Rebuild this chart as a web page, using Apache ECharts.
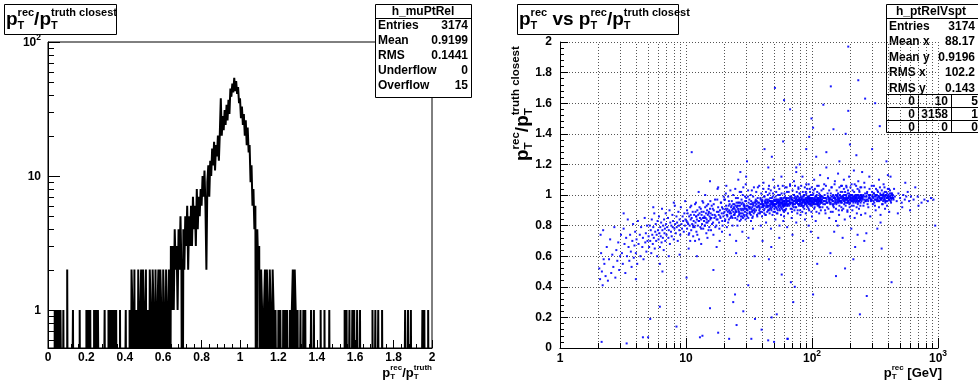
<!DOCTYPE html>
<html><head><meta charset="utf-8">
<script src="https://cdn.jsdelivr.net/npm/echarts@6/dist/echarts.min.js"></script>
<style>html,body{margin:0;padding:0;background:#fff}#c{width:978px;height:385px}</style>
</head><body><div id="c"></div>
<script>
// ---------------- DATA ----------------
const histBinWidth = 0.005; // 400 bins from 0 to 2
const histCounts = [
 0,0,0,0,0,0,0,1,0,1, 0,1,0,1,1,0,1,0,0,0,
 2,0,0,0,0,0,1,0,0,0, 0,0,0,1,0,0,0,0,0,0,
 1,0,1,0,1,0,0,0,1,0, 1,0,1,1,0,0,0,0,0,1,
 0,0,0,1,0,1,0,1,0,1, 0,1,0,0,0,1,0,0,0,0,
 0,1,0,0,0,1,0,2,1,0, 2,0,1,0,2,0,1,2,0,2,
 0,1,2,0,1,0,2,1,0,2, 1,0,2,0,1,2,0,2,1,0,
 2,1,0,2,0,1,2,0,3,1, 3,1,4,2,3,1,4,2,5,2,
 0,4,2,5,3,6,2,5,3,6, 3,7,4,6,3,8,4,7,5,8,
 6,10,7,11,6,2,9,12,7,13, 10,16,12,18,11,17,14,20,13,21,
 38,20,28,22,31,24,34,26,37,29, 45,39,49,42,54,43,51,41,46,35,
 38,27,33,24,29,20,26,17,23,15, 17,9,12,6,8,4,6,0,4,2,
 3,0,2,1,0,1,2,0,2,1, 0,2,1,0,2,1,0,1,1,0,
 1,0,1,1,0,1,0,1,0,1, 1,0,1,0,1,2,0,2,1,0,
 1,0,0,1,0,0,1,0,1,0, 0,0,0,0,1,0,0,1,0,0,
 0,0,0,0,1,0,0,0,1,0, 0,0,0,1,0,0,0,0,0,0,
 0,0,0,0,0,0,0,0,0,1, 0,1,0,0,1,0,0,1,0,1,
 0,0,1,0,0,1,0,0,0,0, 0,0,0,0,0,0,0,0,1,0,
 0,1,0,0,1,0,0,0,1,0, 0,0,0,0,0,0,0,0,0,0,
 0,0,0,0,0,0,0,0,0,0, 0,0,1,0,0,1,0,0,1,0,
 0,0,0,0,0,0,0,0,0,0, 1,0,1,0,0,0,1,0,0,0
];
const histYMajor = [1, 10, 100];
const histYMinor = [0.6,0.7,0.8,0.9,2,3,4,5,6,7,8,9,20,30,40,50,60,70,80,90];
const histStats = [['Entries','3174'],['Mean','0.9199'],['RMS','0.1441'],['Underflow','0'],['Overflow','15']];

const scatXMajor = [1, 10, 100, 1000];
const scatXMinor = [2,3,4,5,6,7,8,9,20,30,40,50,60,70,80,90,200,300,400,500,600,700,800,900];
const scatStats = [['Entries','3174'],['Mean x','88.17'],['Mean y','0.9196'],['RMS x','102.2'],['RMS y','0.143']];
const scatTable = [['0','10','5'],['0','3158','1'],['0','0','0']];

// pT [GeV], ratio
const scatterPts = [
[2.05,0.52],[2.08,0.45],[2.1,0.74],[2.12,0.62],[2.15,0.50],[2.18,0.41],[2.2,0.77],[2.25,0.55],[2.3,0.47],[2.35,0.66],[2.4,0.44],[2.45,0.58],[2.5,0.71],[2.55,0.49],[2.6,0.61],[2.65,0.53],[2.7,0.79],[2.75,0.46],[2.8,0.64],[2.85,0.57],[2.9,0.69],[2.95,0.51],[3.0,0.60],[3.05,0.74],[2.22,0.58],[2.14,0.04],[3.38,0.03],
[3.1,0.62],[3.15,0.55],[3.2,0.78],[3.25,0.68],[3.3,0.49],[3.35,0.72],[3.4,0.60],[3.45,0.84],[3.5,0.66],[3.55,0.57],[3.6,0.74],[3.65,0.63],[3.7,0.53],[3.75,0.70],[3.8,0.81],[3.85,0.59],[3.9,0.67],[3.95,0.76],[4.0,0.62],[4.05,0.71],[4.1,0.55],[4.15,0.83],[4.2,0.68],[4.3,0.74],[4.35,0.60],[4.4,0.79],[4.5,0.66],[4.55,0.72],[4.6,0.58],[4.7,0.85],[4.75,0.69],[4.8,0.75],[4.85,0.63],[4.9,0.80],[4.95,0.70],[4.55,0.07],[5.0,0.07],[5.2,0.19],
[5.05,0.73],[5.1,0.66],[5.15,0.80],[5.2,0.70],[5.25,0.77],[5.3,0.62],[5.35,0.84],[5.4,0.74],[5.45,0.68],[5.5,0.79],[5.55,0.72],[5.6,0.88],[5.65,0.65],[5.7,0.76],[5.75,0.81],[5.8,0.70],[5.85,0.74],[5.9,0.60],[5.95,0.83],[6.0,0.77],
[6.05,0.71],[6.1,0.86],[6.15,0.75],[6.2,0.66],[6.25,0.79],[6.3,0.73],[6.35,0.82],[6.4,0.69],[6.45,0.91],[6.5,0.77],[6.55,0.72],[6.6,0.80],[6.65,0.64],[6.7,0.84],[6.75,0.75],[6.8,0.78],[6.85,0.70],[6.9,0.88],[6.95,0.81],[7.0,0.74],
[7.1,0.79],[7.2,0.85],[7.25,0.72],[7.3,0.77],[7.4,0.90],[7.45,0.68],[7.5,0.82],[7.6,0.76],[7.65,0.80],[7.7,0.73],[7.8,0.87],[7.85,0.79],[7.9,0.83],[8.0,0.71],[8.1,0.78],[8.15,0.93],[8.2,0.81],[8.3,0.75],[8.4,0.86],[8.45,0.79],
[8.5,0.82],[8.6,0.70],[8.7,0.89],[8.8,0.80],[8.85,0.77],[8.9,0.84],[9.0,0.74],[9.1,0.92],[9.2,0.81],[9.3,0.78],[9.4,0.86],[9.5,0.83],[9.6,0.76],[9.7,0.88],[9.8,0.80],[9.85,0.96],[9.9,0.84],[6.2,0.55],[7.3,0.60],[8.9,0.61],
[6.2,0.27],[8.4,0.14],[10.1,0.46],
[10.1,0.83],[10.2,0.78],[10.3,0.88],[10.4,0.81],[10.5,0.74],[10.6,0.86],[10.7,0.80],[10.8,0.92],[10.9,0.84],[11.0,0.77],
[11.1,0.85],[11.2,0.81],[11.3,0.89],[11.4,0.73],[11.5,0.83],[11.6,0.87],[11.7,0.79],[11.8,0.94],[11.9,0.82],[12.0,0.86],
[12.1,0.76],[12.2,0.84],[12.3,0.90],[12.4,0.80],[12.5,0.87],[12.6,0.83],[12.7,0.71],[12.8,0.88],[12.9,0.85],[13.0,0.79],
[13.1,0.91],[13.2,0.84],[13.3,0.87],[13.4,0.81],[13.5,0.96],[13.6,0.85],[13.7,0.78],[13.8,0.89],[13.9,0.83],[14.0,0.86],
[14.1,0.80],[14.2,0.92],[14.3,0.85],[14.4,0.88],[14.5,0.75],[14.6,0.84],[14.7,0.90],[14.8,0.82],[14.9,0.87],[15.0,0.94],
[15.1,0.83],[15.2,0.89],[15.3,0.79],[15.4,0.86],[15.5,0.91],[15.6,0.84],[15.7,0.88],[15.8,0.77],[15.9,0.85],[16.0,0.93],
[16.2,0.87],[16.4,0.82],[16.6,0.90],[16.8,0.85],[17.0,0.97],[17.2,0.86],[17.4,0.80],[17.6,0.89],[17.8,0.84],[18.0,0.92],
[18.2,0.87],[18.4,0.78],[18.6,0.90],[18.8,0.85],[19.0,0.95],[19.2,0.88],[19.4,0.83],[19.6,0.91],[19.8,0.86],[19.9,0.99],
[10.5,0.65],[11.8,0.70],[13.2,0.68],[14.8,0.72],[16.5,0.74],[18.5,0.70],[12.2,0.60],[17.5,0.66],[11.1,1.28],[15.5,1.09],
[16.5,0.51],[12.9,0.07],[13.5,0.08],[15.5,0.26],[18,0.10],[12.6,1.02],[14.2,1.0],[17.8,1.04],[19.3,0.76],[10.8,0.70],
[20.2,0.89],[20.5,0.84],[20.8,0.93],[21.0,0.87],[21.3,0.91],[21.6,0.82],[21.9,0.96],[22.2,0.88],[22.5,0.85],[22.8,0.92],
[23.1,0.90],[23.4,0.80],[23.7,0.94],[24.0,0.87],[24.3,0.91],[24.6,0.85],[24.9,0.98],[25.2,0.89],[25.5,0.93],[25.8,0.86],
[26.1,0.90],[26.4,0.95],[26.7,0.83],[27.0,0.91],[27.3,0.88],[27.6,0.94],[27.9,0.86],[28.2,1.00],[28.5,0.90],[28.8,0.87],
[29.1,0.93],[29.4,0.89],[29.7,0.84],[30.0,0.96],[30.3,0.91],[30.6,0.88],[30.9,0.93],[31.2,0.85],[31.5,0.92],[31.8,0.97],
[32.1,0.89],[32.4,0.94],[32.7,0.87],[33.0,0.91],[33.3,1.03],[33.6,0.90],[33.9,0.86],[34.2,0.93],[34.5,0.88],[34.8,0.95],
[20.4,0.97],[21.1,0.79],[22.0,0.90],[22.9,0.86],[23.8,0.89],[24.7,0.93],[25.6,0.80],[26.5,0.88],[27.4,1.02],[28.3,0.85],
[29.2,0.92],[30.1,0.87],[31.0,0.99],[31.9,0.91],[32.8,0.83],[33.7,0.95],[34.6,0.90],[21.5,0.89],[23.0,0.93],[24.4,0.88],
[25.9,0.91],[27.2,0.86],[28.7,0.93],[30.4,0.90],[32.0,0.88],[33.5,0.92],[20.9,1.06],[26.0,1.10],[29.8,1.07],[22.3,0.74],
[25.0,0.70],[28.0,0.76],[31.3,0.72],[34.0,0.78],[24.5,0.35],[23.7,0.30],[28.5,0.24],[25.2,0.15],[22.0,0.06],[31.2,0.41],
[33.0,0.06],[35.3,0.19],[30.5,1.22],[27.0,1.15],
[35.5,0.93],[36.0,0.90],[36.5,0.96],[37.0,0.92],[37.5,0.88],[38.0,0.95],[38.5,0.91],[39.0,0.98],[39.5,0.94],[40.0,0.89],
[40.5,0.96],[41.0,0.93],[41.5,0.99],[42.0,0.91],[42.5,0.95],[43.0,0.87],[43.5,0.94],[44.0,0.97],[44.5,0.92],[45.0,0.95],
[45.5,0.90],[46.0,1.01],[46.5,0.94],[47.0,0.96],[47.5,0.91],[48.0,0.98],[48.5,0.93],[49.0,0.95],[49.5,0.89],[50.0,0.97],
[50.7,0.94],[51.4,0.99],[52.1,0.92],[52.8,0.96],[53.5,0.90],[54.2,0.95],[54.9,0.93],[55.6,1.00],[56.3,0.94],[57.0,0.97],
[57.7,0.91],[58.4,0.96],[59.1,0.93],[59.8,0.98],[60.5,0.95],[61.2,0.90],[61.9,0.97],[62.6,0.94],[63.3,1.02],[64.0,0.96],
[35.8,0.97],[36.8,0.86],[37.8,0.93],[38.8,0.89],[39.8,0.96],[40.8,0.92],[41.8,0.88],[42.8,0.97],[43.8,0.93],[44.8,0.90],
[45.8,0.96],[46.8,0.92],[47.8,0.94],[48.8,0.99],[49.8,0.93],[50.3,0.91],[51.0,0.96],[51.8,0.94],[52.5,0.88],[53.2,0.97],
[54.0,0.93],[54.6,0.97],[55.3,0.91],[56.0,0.95],[56.8,0.92],[57.5,0.98],[58.1,0.94],[58.9,0.90],[59.6,0.96],[60.2,0.93],
[60.9,0.99],[61.6,0.94],[62.3,0.91],[63.0,0.96],[63.7,0.93],[36.2,0.94],[38.2,0.92],[40.2,0.95],[42.2,0.93],[44.2,0.96],
[46.2,0.91],[48.2,0.95],[50.5,0.96],[52.3,0.94],[54.4,0.95],[56.5,0.97],[58.6,0.95],[60.7,0.94],[62.8,0.97],[37.2,1.05],
[41.2,1.08],[45.2,1.04],[49.2,1.10],[53.8,1.06],[57.2,1.12],[61.4,1.05],[39.2,0.80],[43.2,0.82],[47.2,0.78],[51.2,0.84],
[55.2,0.80],[59.2,0.83],[63.5,0.79],[40.5,0.70],[47.5,0.66],[55.0,0.72],[39.8,0.12],[44.9,0.05],[47.8,0.20],[50.8,1.70],
[52.5,0.22],[50.0,0.04],[57.5,0.48],[64.0,0.06],[42.0,1.30],[48.0,1.25],[59.0,1.35],[45.5,0.58],
[65,0.96],[66,0.93],[67,0.99],[68,0.95],[69,0.91],[70,0.97],[71,0.94],[72,1.00],[73,0.96],[74,0.92],
[75,0.98],[76,0.95],[77,0.90],[78,0.97],[79,0.94],[80,1.01],[81,0.96],[82,0.93],[83,0.98],[84,0.95],
[85,0.92],[86,0.99],[87,0.96],[88,0.94],[89,1.02],[90,0.97],[91,0.93],[92,0.98],[93,0.95],[94,0.91],
[95,0.99],[96,0.96],[97,0.94],[98,1.00],[99,0.97],[100,0.93],[101,0.98],[102,0.95],[103,1.03],[104,0.96],
[105,0.92],[106,0.99],[107,0.96],[108,0.94],[109,1.00],[110,0.97],[111,0.93],[112,0.98],[113,0.95],[114,1.01],
[115,0.96],[116,0.92],[117,0.98],[118,0.95],[119,0.99],[65.5,0.98],[67.5,0.94],[69.5,0.97],[71.5,0.92],[73.5,0.99],
[75.5,0.96],[77.5,0.94],[79.5,0.97],[81.5,0.99],[83.5,0.93],[85.5,0.97],[87.5,1.00],[89.5,0.95],[91.5,0.97],[93.5,0.98],
[95.5,0.94],[97.5,0.97],[99.5,0.95],[101.5,1.00],[103.5,0.94],[105.5,0.97],[107.5,0.99],[109.5,0.95],[111.5,0.97],[113.5,0.93],
[115.5,0.99],[117.5,0.96],[66.5,0.95],[68.5,0.97],[70.5,0.95],[72.5,0.96],[74.5,0.95],[76.5,0.97],[78.5,0.96],[80.5,0.95],
[82.5,0.97],[84.5,0.96],[86.5,0.95],[88.5,0.97],[90.5,0.96],[92.5,0.95],[94.5,0.97],[96.5,0.96],[98.5,0.98],[100.5,0.96],
[102.5,0.97],[104.5,0.95],[106.5,0.97],[108.5,0.96],[110.5,0.98],[112.5,0.96],[114.5,0.97],[116.5,0.96],[118.5,0.97],[67,1.06],
[72,1.09],[78,1.05],[84,1.12],[90,1.07],[96,1.04],[104,1.10],[110,1.06],[116,1.13],[69,0.85],[75,0.82],
[81,0.87],[88,0.84],[94,0.80],[100,0.86],[107,0.83],[114,0.88],[70,0.74],[85,0.70],[98,0.76],[112,0.72],
[67,1.56],[71,0.30],[73,0.40],[102,0.35],[99,1.50],[102,1.44],[64,0.06],[68,0.43],[90,1.30],[108,1.25],
[80,1.20],[95,1.38],[60,1.62],[75,1.18],
[120,0.97],[123,0.94],[126,1.00],[129,0.96],[132,0.92],[135,0.98],[138,0.95],[141,1.01],[144,0.97],[147,0.93],
[150,0.99],[153,0.96],[156,0.94],[159,1.00],[162,0.97],[165,0.93],[168,0.99],[171,0.96],[174,1.02],[177,0.98],
[180,0.94],[183,1.00],[186,0.97],[189,0.95],[192,1.01],[195,0.98],[198,0.94],[201,1.00],[204,0.97],[207,0.93],
[210,0.99],[213,0.96],[216,1.02],[219,0.98],[222,0.95],[225,1.00],[228,0.97],[231,0.94],[234,0.99],[237,1.03],
[240,0.97],[243,0.95],[246,1.00],[249,0.98],[121.5,0.99],[124.5,0.96],[127.5,0.98],[130.5,0.95],[133.5,0.99],[136.5,0.97],
[139.5,0.94],[142.5,0.99],[145.5,0.96],[148.5,0.98],[151.5,0.95],[154.5,1.00],[157.5,0.97],[160.5,0.99],[163.5,0.96],[166.5,0.98],
[169.5,0.95],[172.5,0.99],[175.5,0.97],[178.5,1.00],[181.5,0.96],[184.5,0.98],[187.5,0.99],[190.5,0.97],[193.5,0.96],[196.5,0.99],
[199.5,0.97],[202.5,0.98],[205.5,1.00],[208.5,0.96],[211.5,0.98],[214.5,0.97],[217.5,0.99],[220.5,0.97],[223.5,0.98],[226.5,0.96],
[229.5,1.00],[232.5,0.98],[235.5,0.96],[238.5,0.99],[241.5,0.98],[244.5,0.97],[247.5,0.99],[125,1.07],[134,1.11],[143,1.05],
[152,1.09],[161,1.14],[170,1.06],[179,1.10],[188,1.05],[197,1.12],[206,1.07],[215,1.16],[224,1.06],[233,1.09],
[242,1.05],[128,0.88],[137,0.85],[146,0.89],[155,0.83],[164,0.87],[173,0.90],[182,0.84],[191,0.89],[200,0.86],
[209,0.90],[218,0.85],[227,0.88],[236,0.91],[245,0.87],[141,1.71],[123,1.59],[148,1.43],[194,1.97],[194,1.55],
[183,0.52],[213,0.58],[155,0.47],[233,1.75],[240,0.22],[150,0.76],[175,0.72],[205,0.78],[230,0.74],[130,1.28],
[165,1.22],[200,1.33],[225,1.26],[185,1.40],[140,0.62],[220,0.66],
[252,0.98],[258,0.95],[264,1.01],[270,0.97],[276,0.94],[282,1.00],[288,0.98],[294,0.96],[300,1.02],[306,0.98],
[312,0.95],[318,1.00],[324,0.97],[330,1.03],[336,0.99],[342,0.96],[348,1.01],[354,0.98],[360,0.94],[366,1.00],
[372,0.97],[378,1.02],[384,0.99],[390,0.96],[396,1.01],[402,0.98],[408,1.04],[414,0.99],[420,0.96],[426,1.01],
[432,0.98],[438,1.00],[444,0.97],[255,1.00],[261,0.97],[267,0.99],[273,1.01],[279,0.96],[285,0.99],[291,1.00],
[297,0.97],[303,0.99],[309,1.01],[315,0.97],[321,0.99],[327,1.00],[333,0.97],[339,0.99],[345,0.98],[351,1.00],
[357,0.97],[363,0.99],[369,1.01],[375,0.98],[381,0.96],[387,1.00],[393,0.98],[399,0.99],[405,1.00],[411,0.97],
[417,0.99],[423,0.98],[429,1.00],[260,1.08],[285,1.12],[310,1.06],[340,1.10],[370,1.07],[400,1.13],[265,0.88],
[290,0.86],[320,0.90],[350,0.87],[380,0.91],[410,0.89],[264,1.63],[317,1.60],[272,0.34],[357,0.65],[428,0.43],
[300,1.30],[345,1.45],[390,1.22],[270,0.75],[330,0.78],
[455,0.99],[470,0.96],[485,1.01],[500,0.98],[515,0.95],[530,1.00],[545,0.97],[560,0.99],[575,1.02],[590,0.96],
[610,0.99],[640,0.97],[660,1.05],[690,0.99],[740,0.95],[780,0.97],[830,0.96],[880,0.98],[920,0.97],[950,0.80],
[520,0.92],[550,1.08],[600,0.90],[480,0.88],[700,0.93],
[25.3,0.92],[25.9,0.95],[26.3,0.89],[26.8,0.93],[27.5,0.90],[28.1,0.95],[28.9,0.91],[29.5,0.96],[30.2,0.93],[30.8,0.90],[31.4,0.95],[32.2,0.92],[32.9,0.96],[33.4,0.89],[34.1,0.94],[34.9,0.91],[35.6,0.96],[36.4,0.92],[37.3,0.95],[38.1,0.90],[38.9,0.94],[39.6,0.92],
[40.3,0.97],[41.3,0.94],[42.4,0.96],[43.3,0.92],[44.4,0.95],[45.3,0.97],[46.4,0.93],[47.3,0.95],[48.4,0.92],[49.4,0.96],[50.2,0.94],[51.2,0.92],[52.2,0.97],[53.3,0.95],[54.3,0.92],[55.4,0.96],[56.4,0.93],[57.4,0.95],[58.3,0.97],[59.3,0.94],[60.4,0.96],[61.3,0.93],[62.4,0.95],[63.4,0.98],[64.4,0.94],
[40.7,0.93],[42.6,0.95],[44.6,0.93],[46.6,0.96],[48.6,0.94],[50.6,0.93],[52.6,0.95],[54.7,0.94],[56.7,0.95],[58.7,0.93],[60.8,0.96],[62.9,0.95],
[65.3,0.94],[66.3,0.97],[67.3,0.95],[68.3,0.98],[69.3,0.95],[70.3,0.93],[71.3,0.96],[72.3,0.98],[73.3,0.94],[74.3,0.97],[75.3,0.95],[76.3,0.99],[77.3,0.96],[78.3,0.94],[79.3,0.98],[80.3,0.96],[81.3,0.94],[82.3,0.97],[83.3,0.95],[84.3,0.99],[85.3,0.96],[86.3,0.93],[87.3,0.97],[88.3,0.95],[89.3,0.98],[90.3,0.94],[91.3,0.96],[92.3,0.99],[93.3,0.96],[94.3,0.94],[95.3,0.97],[96.3,0.95],[97.3,0.98],[98.3,0.94],[99.3,0.96],[100.3,0.98],[101.3,0.95],[102.3,0.97],[103.3,0.94],[104.3,0.98],[105.3,0.96],[106.3,0.94],[107.3,0.97],[108.3,0.99],[109.3,0.96],[110.3,0.94],[111.3,0.97],[112.3,0.95],[113.3,0.98],[114.3,0.96],[115.3,0.94],[116.3,0.97],[117.3,0.95],[118.3,0.99],[119.3,0.96],
[120.8,0.95],[122.8,0.98],[124.8,0.96],[126.8,0.94],[128.8,0.98],[130.8,0.97],[132.8,0.95],[134.8,0.99],[136.8,0.96],[138.8,0.98],[140.8,0.95],[142.8,0.97],[144.8,0.99],[146.8,0.96],[148.8,0.94],[150.8,0.98],[152.8,0.97],[154.8,0.95],[156.8,0.99],[158.8,0.96],[160.8,0.98],[162.8,0.95],[164.8,0.97],[166.8,1.00],[168.8,0.96],[170.8,0.98],[172.8,0.95],[174.8,0.97],[176.8,0.99],[178.8,0.96],[180.8,0.98],[182.8,0.95],[184.8,0.97],[186.8,1.00],[188.8,0.97],[190.8,0.95],[192.8,0.98],[194.8,0.96],[196.8,0.99],[198.8,0.97],[200.8,0.95],[202.8,0.99],[204.8,0.96],[206.8,0.98],[208.8,1.00],[210.8,0.97],[212.8,0.95],[214.8,0.99],[216.8,0.97],[218.8,0.96],[220.8,1.00],[222.8,0.98],[224.8,0.96],[226.8,0.99],[228.8,0.97],[230.8,0.95],[232.8,1.00],[234.8,0.98],[236.8,0.96],[238.8,0.99],[240.8,0.97],[242.8,1.00],[244.8,0.98],[246.8,0.96],[248.8,0.99],
[253,0.97],[259,0.99],[265,0.96],[271,0.99],[277,0.97],[283,0.98],[289,1.00],[295,0.97],[301,0.99],[307,0.96],[313,0.99],[319,0.97],[325,1.00],[331,0.98],[337,0.96],[343,0.99],[349,0.97],[355,1.00],[361,0.98],[367,0.96],[373,0.99],[379,0.97],[385,1.00],[391,0.98],[397,0.96],[403,0.99],[409,0.97],[415,1.01],[421,0.98],[427,0.97],[435,0.99],[441,0.98],
[10.3,0.82],[10.9,0.87],[11.5,0.80],[12.1,0.86],[12.7,0.83],[13.3,0.89],[13.9,0.85],[14.5,0.82],[15.1,0.88],[15.7,0.85],[16.3,0.91],[16.9,0.87],[17.5,0.84],[18.1,0.89],[18.7,0.86],[19.3,0.92],[19.9,0.88],[20.6,0.91],[21.2,0.87],[21.8,0.93],[22.4,0.89],[23.0,0.86],[23.6,0.91],[24.2,0.94],[24.8,0.90],
[30,1.12],[45,1.18],[60,0.86],[75,1.15],[130,1.18],[160,0.80],[250,1.15],[350,0.82],[420,1.12],[18,1.05],[25,0.62],[35,0.60],[12,0.95],[8,0.95],[5.5,0.92],[6.5,0.50],[4,0.45],[3.2,0.88],[110,0.55],[260,0.70],
[20.1,0.97],[20.4,0.83],[20.7,1.01],[21.0,0.90],[21.3,0.86],[21.6,0.99],[21.9,0.84],[22.2,0.94],[22.5,1.03],[22.8,0.88],
[23.1,0.96],[23.4,0.85],[23.7,1.00],[24.0,0.92],[24.3,0.87],[24.6,1.04],[24.9,0.89],[25.2,0.95],[25.5,0.84],[25.8,0.98],
[26.1,0.93],[26.4,0.87],[26.7,1.02],[27.0,0.95],[27.3,0.84],[27.6,0.97],[27.9,0.91],[28.2,0.88],[28.5,1.05],[28.8,0.94],
[29.1,0.86],[29.4,0.99],[29.7,0.91],
[30.1,0.98],[30.6,0.86],[31.1,1.03],[31.6,0.92],[32.1,0.88],[32.6,1.00],[33.1,0.94],[33.6,0.85],[34.1,0.99],[34.6,1.05],
[35.1,0.89],[35.6,0.95],[36.1,1.02],[36.6,0.87],[37.1,0.98],[37.6,0.93],[38.1,1.06],[38.6,0.88],[39.1,0.97],[39.6,1.01],
[40.1,0.86],[40.6,0.94],[41.1,1.04],[41.6,0.90],[42.1,0.99],[42.6,0.87],[43.1,1.02],[43.6,0.95],[44.1,0.89],[44.6,1.00],
[45.1,0.93],[45.6,1.06],[46.1,0.88],[46.6,0.98],[47.1,1.03],[47.6,0.90],[48.1,0.96],[48.6,0.87],[49.1,1.01],[49.6,0.94],
[50.2,1.05],[50.8,0.89],[51.4,0.97],[52.0,1.02],[52.6,0.91],[53.2,0.88],[53.8,1.00],[54.4,0.96],[55.0,1.04],[55.6,0.90],
[56.2,0.98],[56.8,0.87],[57.4,1.01],[58.0,0.95],[58.6,1.06],[59.2,0.92],[59.8,0.89],
[60.5,1.01],[61.3,0.90],[62.1,0.98],[62.9,1.05],[63.7,0.93],[64.5,0.88],[65.3,1.02],[66.1,0.96],[66.9,1.07],[67.7,0.91],
[68.5,0.99],[69.3,0.89],[70.1,1.03],[70.9,0.94],[71.7,1.00],[72.5,0.90],[73.3,1.06],[74.1,0.97],[74.9,0.92],[75.7,1.02],
[76.5,0.88],[77.3,0.99],[78.1,1.04],[78.9,0.93],[79.7,1.01],[80.5,0.90],[81.3,0.97],[82.1,1.06],[82.9,0.94],[83.7,0.89],
[84.5,1.02],[85.3,0.97],[86.1,1.00],[86.9,0.91],[87.7,1.05],[88.5,0.95],[89.3,0.88],[90.1,1.01],[90.9,0.96],[91.7,1.04],
[92.5,0.92],[93.3,0.99],[94.1,1.07],[94.9,0.90],[95.7,0.98],[96.5,1.02],[97.3,0.93],[98.1,1.00],[98.9,0.89],[99.7,1.05],
[101,0.95],[102.5,1.01],[104,0.91],[105.5,1.04],[107,0.97],[108.5,0.89],[110,1.02],[111.5,0.94],[113,1.06],[114.5,0.92],
[116,1.00],[117.5,0.90],[119,1.03],
[121,0.92],[123,1.04],[125,0.98],[127,0.90],[129,1.06],[131,0.95],[133,1.01],[135,0.91],[137,1.03],[139,0.97],
[141,0.89],[143,1.05],[145,0.94],[147,1.00],[149,0.92],[151,1.07],[153,0.98],[155,0.91],[157,1.03],[159,0.95],
[161,1.01],[163,0.90],[165,1.05],[167,0.96],[169,1.02],[171,0.92],[173,1.06],[175,0.99],[177,0.91],[179,1.04],
[181,0.97],[183,1.02],[185,0.93],[187,1.06],[189,0.98],[191,0.90],[193,1.03],[195,0.95],[197,1.01],[199,0.92],
[202,1.05],[206,0.96],[210,1.03],[214,0.93],[218,1.07],[222,0.99],[226,0.92],[230,1.04],[234,0.96],[238,1.02],
[242,0.93],[246,1.05],
[251,0.99],[256,0.93],[262,1.05],[268,0.96],[274,1.02],[280,0.92],[286,1.04],[292,0.97],[298,1.06],[304,0.94],
[310,1.01],[316,0.93],[322,1.04],[328,0.96],[334,1.02],[340,0.92],[346,1.05],[352,0.97],[358,1.03],[364,0.94],
[370,1.00],[376,1.05],[382,0.95],[388,1.02],[394,0.93],[400,1.04],[408,0.97],[416,1.03],[424,0.95],[432,1.01],
[440,0.98],[448,1.04],
[10.2,0.90],[10.6,0.75],[11.0,0.93],[11.4,0.79],[11.9,0.89],[12.3,0.74],[12.8,0.92],[13.2,0.78],[13.7,0.95],[14.1,0.80],
[14.6,0.93],[15.1,0.77],[15.6,0.96],[16.1,0.81],[16.6,0.94],[17.1,0.79],[17.7,0.97],[18.3,0.82],[18.9,0.95],[19.5,0.80]
];

// ---------------- HELPERS ----------------
const FONT = '"Liberation Sans", Arial, sans-serif';
const NARROW = '"Liberation Sans Narrow", "Liberation Sans", sans-serif';
const mctx = document.createElement('canvas').getContext('2d');
function tw(t, s, fam) { mctx.font = 'bold ' + s + 'px ' + (fam || FONT); return mctx.measureText(t).width; }
function T(t, x, base, size, align, fam) {
  return {type:'text', x:x, y: base - 0.31*size, silent:true,
    style:{text:t, fontSize:size, fontWeight:'bold', fontFamily: fam || FONT, fill:'#000', align: align || 'left', verticalAlign:'middle'}};
}
function texWidth(parts, big, small) {
  let w = 0;
  for (const p of parts) {
    if (typeof p === 'string') w += tw(p, big);
    else w += Math.max(p.sup ? tw(p.sup, small) : 0, p.sub ? tw(p.sub, small) : 0);
  }
  return w;
}
function tex(parts, big, small, x0, base) {
  const els = []; let x = x0;
  for (const p of parts) {
    if (typeof p === 'string') { els.push(T(p, x, base, big)); x += tw(p, big); }
    else {
      let w = 0;
      if (p.sup) { els.push(T(p.sup, x, base - big*0.5, small)); w = Math.max(w, tw(p.sup, small)); }
      if (p.sub) { els.push(T(p.sub, x, base + big*0.2, small)); w = Math.max(w, tw(p.sub, small)); }
      x += w;
    }
  }
  return els;
}
function crisp(v) { return Math.round(v) + 0.5; }
function powLabel(v) {
  if (v === 1) return ['1'];
  if (v === 10) return ['10'];
  return ['10', {sup: String(Math.round(Math.log10(v)))}];
}

function tickSeries(xi, yi, data, kind, len) {
  return {type:'custom', xAxisIndex:xi, yAxisIndex:yi, silent:true, animation:false, clip:false, z: kind === 'grid' ? 1 : 5, data: data,
    renderItem: function (params, api) {
      const p = api.coord([api.value(0), api.value(1)]);
      if (kind === 'xtick') return {type:'line', shape:{x1:crisp(p[0]), y1:p[1], x2:crisp(p[0]), y2:p[1]-len}, style:{stroke:'#000', lineWidth:1}};
      if (kind === 'ytick') return {type:'line', shape:{x1:p[0], y1:crisp(p[1]), x2:p[0]+len, y2:crisp(p[1])}, style:{stroke:'#000', lineWidth:1}};
      const q = api.coord([api.value(0), api.value(2)]);
      return {type:'line', shape:{x1:crisp(p[0]), y1:p[1], x2:crisp(q[0]), y2:q[1]}, style:{stroke:'#555', lineWidth:1, lineDash:[1,2]}};
    }};
}
function labelSeries(xi, yi, data, kind) {
  return {type:'custom', xAxisIndex:xi, yAxisIndex:yi, silent:true, animation:false, clip:false, z:5, data: data,
    renderItem: function (params, api) {
      const v = kind === 'y' ? api.value(1) : api.value(0);
      const p = api.coord([api.value(0), api.value(1)]);
      const parts = powLabel(v);
      const w = texWidth(parts, 12, 8.5);
      let x0, base;
      if (kind === 'y') { x0 = p[0] - 7 - w; base = p[1] + 4.3; }
      else { x0 = p[0] - w/2; base = p[1] + 14; }
      return {type:'group', children: tex(parts, 12, 8.5, x0, base)};
    }};
}

// ---------------- GRAPHICS (titles, stats) ----------------
const G = [];
function box(x, y, w, h) { G.push({type:'rect', silent:true, shape:{x:x+0.5, y:y+0.5, width:w, height:h}, style:{fill:'#fff', stroke:'#000', lineWidth:1}}); }
function hline(x1, x2, y) { G.push({type:'line', silent:true, shape:{x1:x1, y1:y+0.5, x2:x2, y2:y+0.5}, style:{stroke:'#000', lineWidth:1}}); }
function vline(x, y1, y2) { G.push({type:'line', silent:true, shape:{x1:x+0.5, y1:y1, x2:x+0.5, y2:y2}, style:{stroke:'#000', lineWidth:1}}); }

// left title
box(4, 4, 112, 30);
tex(['p', {sup:'rec', sub:'T'}, '/p', {sup:'truth closest', sub:'T'}], 19, 11, 6, 26).forEach(e => G.push(e));
// right title
box(517, 4, 161, 30);
tex(['p', {sup:'rec', sub:'T'}, ' vs p', {sup:'rec', sub:'T'}, '/p', {sup:'truth closest', sub:'T'}], 19, 11, 519, 26).forEach(e => G.push(e));

// left stats box
box(375, 4, 96, 93);
hline(375, 471, 18);
G.push(T('h_muPtRel', 423, 15, 12, 'center'));
histStats.forEach((r, i) => {
  const b = 29 + i*15;
  G.push(T(r[0], 378, b, 12, 'left', NARROW));
  G.push(T(r[1], 468, b, 12, 'right', NARROW));
});
// right stats box
box(886, 4, 100, 128);
hline(886, 986, 18);
G.push(T('h_ptRelVspt', 931, 15, 12, 'center'));
scatStats.forEach((r, i) => {
  const b = 30 + i*15.5;
  G.push(T(r[0], 889, b, 12, 'left', NARROW));
  G.push(T(r[1], 975, b, 12, 'right', NARROW));
});
hline(886, 986, 94); hline(886, 986, 107); hline(886, 986, 120);
vline(918, 94, 132); vline(951, 94, 132);
scatTable.forEach((r, i) => {
  const b = 105 + i*13;
  G.push(T(r[0], 915, b, 12, 'right', NARROW));
  G.push(T(r[1], 948, b, 12, 'right', NARROW));
  G.push(T(r[2], 978, b, 12, 'right', NARROW));
});

// axis titles
(function () {
  const p1 = ['p', {sup:'rec', sub:'T'}, '/p', {sup:'truth', sub:'T'}];
  const w1 = texWidth(p1, 13, 8);
  tex(p1, 13, 8, 432 - w1, 377).forEach(e => G.push(e));
  const p2 = ['p', {sup:'rec', sub:'T'}, ' [GeV]'];
  const w2 = texWidth(p2, 13, 8);
  tex(p2, 13, 8, 942 - w2, 377).forEach(e => G.push(e));
  const p3 = ['p', {sup:'rec', sub:'T'}, '/p', {sup:'truth closest', sub:'T'}];
  G.push({type:'group', x:529, y:161, rotation:Math.PI/2, silent:true, children: tex(p3, 19, 11.5, 0, 0)});
})();

// ---------------- CHART ----------------
const chart = echarts.init(document.getElementById('c'), null, {renderer:'canvas'});
const axisLine = {show:true, onZero:false, lineStyle:{color:'#000', width:1}};
const lbl = {color:'#000', fontFamily:FONT, fontWeight:'bold', fontSize:12};
const histData = histCounts.map((c, i) => [(i + 0.5) * histBinWidth, c > 0 ? c : 0.01]);

const option = {
  animation:false,
  backgroundColor:'#fff',
  grid:[
    {left:48, top:42, width:384, height:306, show:true, borderColor:'#000', borderWidth:1, backgroundColor:'rgba(0,0,0,0)'},
    {left:560, top:42, width:378, height:306, show:false}
  ],
  xAxis:[
    {gridIndex:0, type:'value', min:0, max:2, interval:0.2, axisLine:axisLine,
      axisTick:{inside:true, length:8, lineStyle:{color:'#000'}},
      minorTick:{show:true, splitNumber:5, length:4, lineStyle:{color:'#000'}},
      splitLine:{show:false}, axisLabel:Object.assign({margin:4}, lbl)},
    {gridIndex:1, type:'log', logBase:10, min:1, max:1000, axisLine:axisLine,
      axisTick:{inside:true, length:10, lineStyle:{color:'#000'}},
      splitLine:{show:true, lineStyle:{color:'#555', type:[1,2], width:1}},
      axisLabel:{show:false}}
  ],
  yAxis:[
    {gridIndex:0, type:'log', logBase:10, min:0.52, max:100, axisLine:axisLine,
      axisTick:{show:false}, splitLine:{show:false}, axisLabel:{show:false}},
    {gridIndex:1, type:'value', min:0, max:2, interval:0.2, axisLine:axisLine,
      axisTick:{inside:true, length:8, lineStyle:{color:'#000'}},
      minorTick:{show:true, splitNumber:5, length:4, lineStyle:{color:'#000'}},
      splitLine:{show:true, lineStyle:{color:'#555', type:[1,2], width:1}},
      axisLabel:Object.assign({margin:8}, lbl)}
  ],
  series:[
    {type:'line', xAxisIndex:0, yAxisIndex:0, data:histData, step:'middle', symbol:'none', showSymbol:false,
      lineStyle:{color:'#000', width:2}, clip:true, animation:false, z:3},
    tickSeries(0, 0, histYMajor.map(v => [0, v]), 'ytick', 12),
    tickSeries(0, 0, histYMinor.map(v => [0, v]), 'ytick', 6),
    labelSeries(0, 0, histYMajor.map(v => [0, v]), 'y'),
    tickSeries(1, 1, scatXMinor.map(v => [v, 0, 2]), 'grid', 0),
    tickSeries(1, 1, scatXMinor.map(v => [v, 0]), 'xtick', 5),
    labelSeries(1, 1, scatXMajor.map(v => [v, 0]), 'x'),
    {type:'scatter', xAxisIndex:1, yAxisIndex:1, data:scatterPts, symbol:'rect', symbolSize:2,
      itemStyle:{color:'#0000ff', opacity:0.9}, animation:false, z:3}
  ],
  graphic:{elements:G}
};
chart.setOption(option);
</script></body></html>
